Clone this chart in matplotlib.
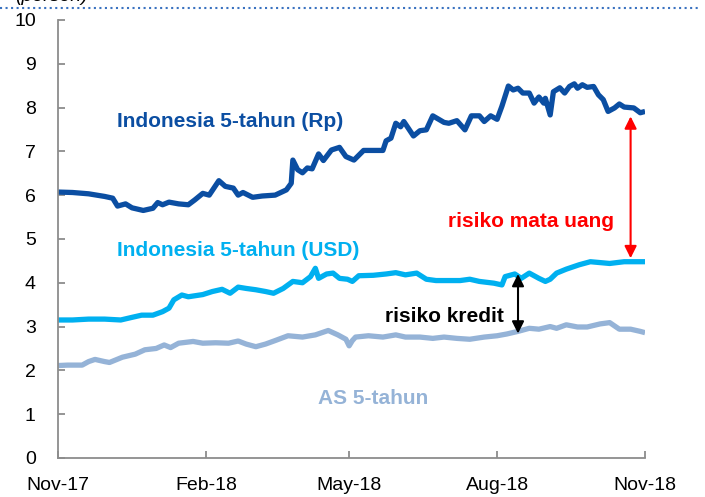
import numpy as np
import matplotlib
matplotlib.use("Agg")
import matplotlib.pyplot as plt
import matplotlib.dates as mdates
from matplotlib.lines import Line2D

plt.rcParams['font.family'] = ['Liberation Sans', 'DejaVu Sans']

# days since 1 Nov 2017 and yields (%)
rp_days = [0, 9, 19, 29, 34, 37, 42, 46, 53, 59, 62, 65, 69, 75, 81, 85, 90, 94, 100, 104,
           109, 112, 115, 121, 127, 135, 142, 145, 146, 149, 152, 155, 158, 162, 165, 170,
           175, 179, 184, 190, 202, 204, 207, 210, 213, 215, 221, 225, 229, 233, 240, 243,
           248, 253, 257, 262, 265, 269, 273, 276, 280, 283, 286, 289, 293, 296, 299, 302,
           303, 306, 308, 312, 315, 318, 321, 323, 326, 329, 333, 336, 339, 342, 346, 349,
           352, 358, 362, 365]
rp_vals = [6.07, 6.06, 6.03, 5.97, 5.93, 5.75, 5.80, 5.71, 5.65, 5.70, 5.83, 5.78, 5.84, 5.80,
           5.78, 5.89, 6.04, 6.00, 6.33, 6.20, 6.16, 6.00, 6.06, 5.95, 5.98, 6.00, 6.12, 6.27,
           6.80, 6.58, 6.51, 6.62, 6.60, 6.94, 6.79, 7.03, 7.09, 6.88, 6.80, 7.02, 7.02, 7.24,
           7.30, 7.64, 7.56, 7.68, 7.35, 7.47, 7.49, 7.81, 7.66, 7.64, 7.70, 7.49, 7.81, 7.81,
           7.68, 7.81, 7.73, 8.03, 8.49, 8.40, 8.44, 8.33, 8.33, 8.10, 8.24, 8.10, 8.21, 7.83,
           8.36, 8.45, 8.33, 8.48, 8.54, 8.44, 8.52, 8.46, 8.48, 8.29, 8.18, 7.91, 7.99, 8.08,
           8.01, 7.99, 7.88, 7.91]

usd_days = [0, 9, 19, 29, 39, 46, 52, 59, 65, 69, 72, 77, 81, 90, 96, 102, 107, 112, 117, 123,
            129, 134, 140, 146, 152, 157, 160, 162, 167, 171, 175, 180, 183, 187, 196, 204,
            210, 216, 223, 229, 235, 243, 250, 256, 262, 271, 276, 278, 284, 288, 293, 299,
            303, 306, 310, 316, 324, 331, 337, 343, 352, 360, 365]
usd_vals = [3.15, 3.15, 3.17, 3.17, 3.15, 3.21, 3.26, 3.26, 3.34, 3.42, 3.61, 3.72, 3.68, 3.73,
            3.80, 3.85, 3.76, 3.90, 3.87, 3.84, 3.80, 3.76, 3.87, 4.03, 4.00, 4.14, 4.33, 4.10,
            4.20, 4.22, 4.10, 4.08, 4.03, 4.16, 4.17, 4.20, 4.23, 4.18, 4.22, 4.08, 4.05, 4.05,
            4.05, 4.08, 4.03, 3.99, 3.95, 4.14, 4.20, 4.10, 4.22, 4.10, 4.03, 4.08, 4.22, 4.31,
            4.41, 4.48, 4.46, 4.44, 4.48, 4.48, 4.48]

us_days = [0, 6, 15, 19, 23, 29, 32, 40, 48, 54, 61, 66, 70, 75, 84, 90, 98, 106, 112, 117,
           123, 129, 135, 143, 152, 160, 168, 174, 179, 181, 183, 185, 193, 202, 210, 216, 225,
           233, 240, 248, 256, 265, 273, 279, 286, 293, 299, 306, 310, 316, 323, 329, 337, 343,
           349, 356, 362, 365]
us_vals = [2.11, 2.12, 2.12, 2.20, 2.25, 2.20, 2.18, 2.30, 2.37, 2.47, 2.50, 2.58, 2.52, 2.62,
           2.66, 2.62, 2.63, 2.62, 2.67, 2.60, 2.54, 2.60, 2.68, 2.79, 2.76, 2.81, 2.91, 2.81,
           2.71, 2.56, 2.68, 2.76, 2.79, 2.76, 2.81, 2.76, 2.76, 2.73, 2.76, 2.73, 2.71, 2.76,
           2.79, 2.83, 2.89, 2.96, 2.94, 3.00, 2.96, 3.04, 2.99, 2.99, 3.06, 3.09, 2.94, 2.94,
           2.89, 2.86]

start = np.datetime64('2017-11-01')
tick_dates = ['2017-11-01', '2018-02-01', '2018-05-01', '2018-08-01', '2018-11-01']


def to_dates(days):
    return start + np.array(days).astype('timedelta64[D]')


fig = plt.figure(figsize=(7.05, 4.97), dpi=100)
ax = fig.add_axes([0.0823, 0.0785, 0.8327, 0.8815])

c_rp = '#0B4EA2'
c_usd = '#00B0F0'
c_us = '#95B3D7'
ax.plot(to_dates(us_days), us_vals, color=c_us, lw=3.8, solid_capstyle='butt')
ax.plot(to_dates(usd_days), usd_vals, color=c_usd, lw=3.8, solid_capstyle='butt')
ax.plot(to_dates(rp_days), rp_vals, color=c_rp, lw=3.8, solid_capstyle='butt')

ax.set_ylim(0, 10)
ax.set_yticks(range(0, 11))
ax.set_xlim(np.datetime64(tick_dates[0]), np.datetime64(tick_dates[-1]))
ax.set_xticks([np.datetime64(d) for d in tick_dates])
ax.xaxis.set_major_formatter(mdates.DateFormatter('%b-%y'))

for s in ['top', 'right']:
    ax.spines[s].set_visible(False)
for s in ['left', 'bottom']:
    ax.spines[s].set_color('#8C8C8C')
    ax.spines[s].set_linewidth(1.3)
ax.tick_params(axis='both', direction='in', length=5, width=1.3, color='#8C8C8C',
               labelsize=14, labelcolor='black')
ax.tick_params(axis='y', pad=16)
ax.tick_params(axis='x', pad=14)

# labels
bold = dict(fontsize=15, fontweight='bold', ha='center', va='center')
ax.text(to_dates([107])[0], 7.69, 'Indonesia 5-tahun (Rp)', color=c_rp, **bold)
ax.text(to_dates([112])[0], 4.73, 'Indonesia 5-tahun (USD)', color=c_usd, **bold)
ax.text(to_dates([196])[0], 1.35, 'AS 5-tahun', color=c_us, **bold)
ax.text(to_dates([294])[0], 5.39, 'risiko mata uang', color='#FF0000', **bold)
ax.text(to_dates([240])[0], 3.24, 'risiko kredit', color='black', **bold)

# spread arrows, placed between the series
d_red, d_blk = 356, 286
x_red = to_dates([d_red])[0]
x_blk = to_dates([d_blk])[0]
ax.annotate('', xy=(x_red, np.interp(d_red, rp_days, rp_vals) - 0.2),
            xytext=(x_red, np.interp(d_red, usd_days, usd_vals) + 0.08),
            arrowprops=dict(arrowstyle='<|-|>', color='#FF0000', lw=1.5,
                            mutation_scale=18, shrinkA=0, shrinkB=0))
ax.annotate('', xy=(x_blk, np.interp(d_blk, usd_days, usd_vals) + 0.05),
            xytext=(x_blk, np.interp(d_blk, us_days, us_vals) - 0.05),
            arrowprops=dict(arrowstyle='<|-|>', color='black', lw=1.5,
                            mutation_scale=18, shrinkA=0, shrinkB=0))

# unit label cut off by the top edge, and the dotted rule below it
fig.text(0.021, 1 - 1 / 497, '(persen)', fontsize=14, fontstyle='italic', va='baseline')
fig.add_artist(Line2D([0, 0.993], [1 - 8 / 497] * 2, transform=fig.transFigure,
                      ls=':', color='#3A72C0', lw=1.5))

fig.savefig('out.png', dpi=100)
